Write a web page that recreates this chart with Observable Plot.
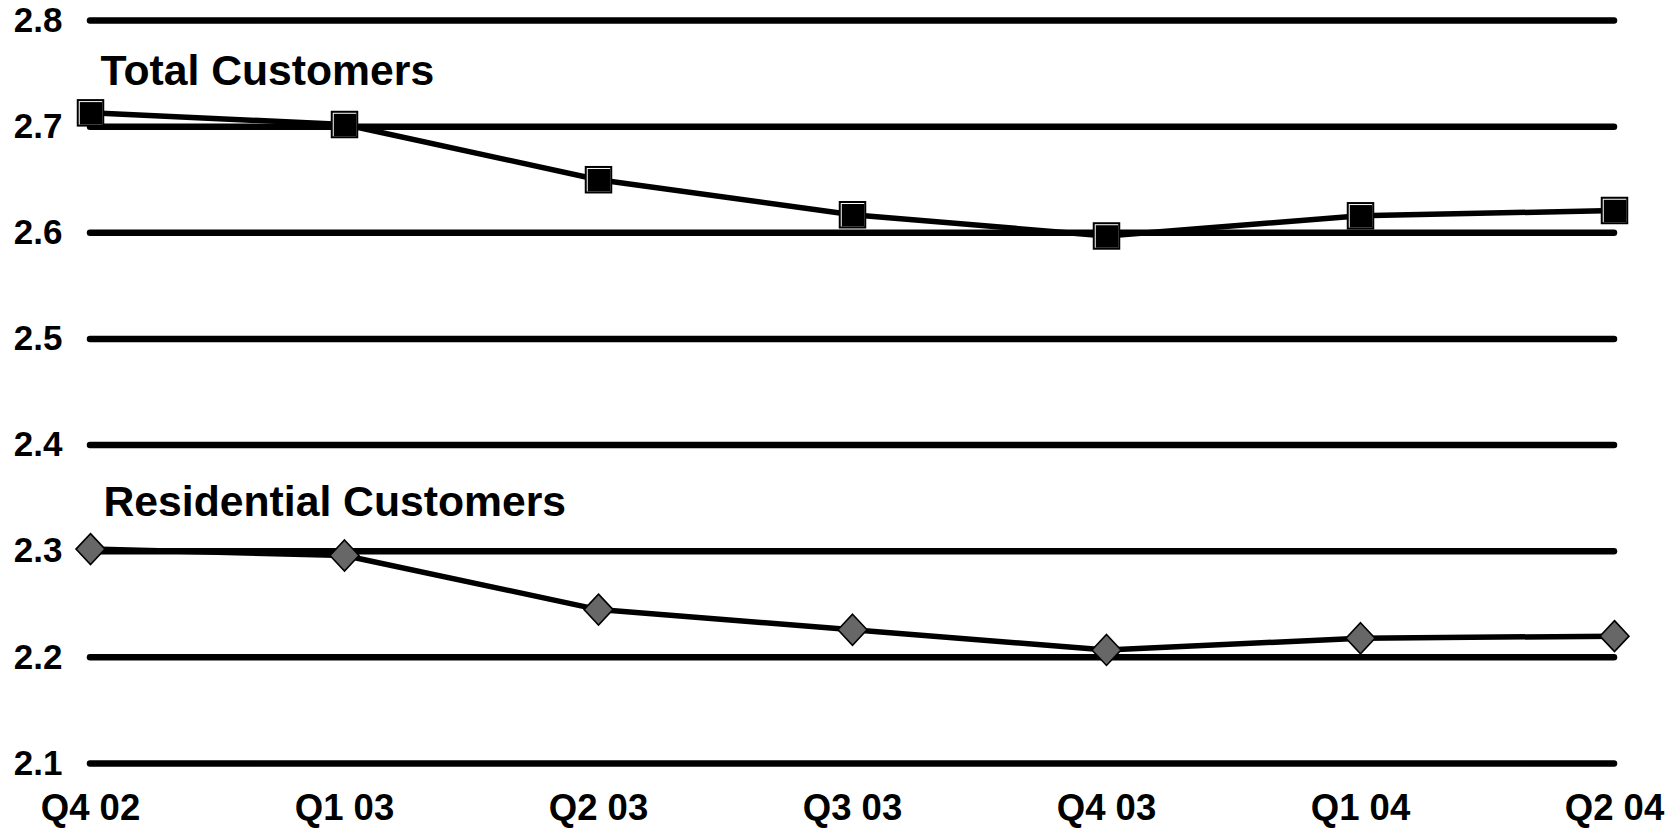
<!DOCTYPE html>
<html>
<head>
<meta charset="utf-8">
<script src="https://cdn.jsdelivr.net/npm/d3@7"></script>
<script src="https://cdn.jsdelivr.net/npm/@observablehq/plot@0.6"></script>
<style>
  html, body { margin: 0; padding: 0; background: #fff; }
</style>
</head>
<body>
<div id="chart"></div>
<script>
// Customers (millions) by quarter
const quarters = ["Q4 02", "Q1 03", "Q2 03", "Q3 03", "Q4 03", "Q1 04", "Q2 04"];
const totalCustomers = [2.713, 2.702, 2.650, 2.617, 2.597, 2.616, 2.621];
const residentialCustomers = [2.302, 2.296, 2.245, 2.226, 2.207, 2.218, 2.220];
const seriesNames = ["Total Customers", "Residential Customers"];
const yTicks = [2.1, 2.2, 2.3, 2.4, 2.5, 2.6, 2.7, 2.8];

const totalRows = quarters.map((q, i) => ({quarter: q, value: totalCustomers[i], series: seriesNames[0]}));
const residentialRows = quarters.map((q, i) => ({quarter: q, value: residentialCustomers[i], series: seriesNames[1]}));
const rows = totalRows.concat(residentialRows);

// Bevelled square marker drawn in three layers: dark body, light edge, dark face
const rectSymbol = (x0, y0, x1, y1) => ({draw(ctx) { ctx.rect(x0, y0, x1 - x0, y1 - y0); }});
const squareBody = rectSymbol(-13.75, -13.75, 13.75, 13.75);
const squareEdge = rectSymbol(-11.75, -11.75, 11.75, 11.75);
const squareFace = rectSymbol(-10.75, -10.75, 11.75, 11.75);
const diamond = {draw(ctx) {
  ctx.moveTo(0, -15.5); ctx.lineTo(14.5, 0); ctx.lineTo(0, 15.5); ctx.lineTo(-14.5, 0); ctx.closePath();
}};

const font = "'Liberation Sans', Arial, Helvetica, sans-serif";

const chart = Plot.plot({
  width: 1674,
  height: 829,
  marginTop: 20,
  marginBottom: 66,
  marginLeft: 90,
  marginRight: 60,
  style: {fontFamily: font, fontWeight: "bold", background: "#fff", color: "#000"},
  x: {type: "point", domain: quarters, padding: 0},
  y: {domain: [2.1, 2.8]},
  marks: [
    Plot.ruleY(yTicks, {stroke: "#000", strokeWidth: 6.5, strokeLinecap: "round"}),
    Plot.axisY({ticks: yTicks, tickSize: 0, tickPadding: 28, fontSize: 35, tickFormat: d => d.toFixed(1), label: null}),
    Plot.axisX({tickSize: 0, tickPadding: 31, fontSize: 36.5, label: null}),
    Plot.line(rows, {x: "quarter", y: "value", z: "series", stroke: "#000", strokeWidth: 5.5}),
    Plot.dot(totalRows, {x: "quarter", y: "value", symbol: squareBody, fill: "#000"}),
    Plot.dot(totalRows, {x: "quarter", y: "value", symbol: squareEdge, fill: "#fff"}),
    Plot.dot(totalRows, {x: "quarter", y: "value", symbol: squareFace, fill: "#000"}),
    Plot.dot(residentialRows, {x: "quarter", y: "value", symbol: diamond, fill: "#676767", stroke: "#000", strokeWidth: 1.6}),
    Plot.text(totalRows.slice(0, 1), {x: "quarter", y: "value", text: "series", textAnchor: "start", lineAnchor: "bottom", dx: 10, dy: -28, fontSize: 42.7, fill: "#000"}),
    Plot.text(residentialRows.slice(0, 1), {x: "quarter", y: "value", text: "series", textAnchor: "start", lineAnchor: "bottom", dx: 13, dy: -33, fontSize: 42.7, fill: "#000"})
  ]
});

document.getElementById("chart").appendChild(chart);
</script>
</body>
</html>
